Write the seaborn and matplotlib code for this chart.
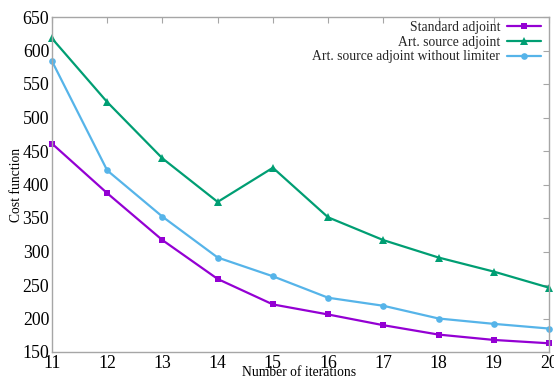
import matplotlib
matplotlib.use("Agg")
import matplotlib.pyplot as plt
import seaborn as sns
import pandas as pd

iterations = [11, 12, 13, 14, 15, 16, 17, 18, 19, 20]
standard_adjoint = [461, 387, 317, 259, 221, 206, 190, 176, 168, 163]
art_source_adjoint = [618, 523, 439, 374, 425, 351, 317, 291, 270, 246]
art_source_no_limiter = [584, 421, 352, 291, 263, 231, 219, 200, 192, 185]

series_names = ["Standard adjoint", "Art. source adjoint",
                "Art. source adjoint without limiter"]
series_values = [standard_adjoint, art_source_adjoint, art_source_no_limiter]
series_colors = ["#9400D3", "#009E73", "#56B4E9"]
series_markers = ["s", "^", "o"]
series_msizes = [4.6, 5.4, 4.8]

x_ticks = [11, 12, 13, 14, 15, 16, 17, 18, 19, 20]
y_ticks = [150, 200, 250, 300, 350, 400, 450, 500, 550, 600, 650]

sns.set_theme(style="white")
plt.rcParams["font.family"] = ["Liberation Serif", "DejaVu Serif"]

fig = plt.figure(figsize=(5.54, 3.82), dpi=100)
ax = fig.add_axes([52 / 554, 1 - 352 / 382, 497 / 554, 335 / 382])

for name, vals, col, mk, ms in zip(series_names, series_values, series_colors,
                                   series_markers, series_msizes):
    df = pd.DataFrame({"iter": iterations, "cost": vals})
    sns.lineplot(data=df, x="iter", y="cost", ax=ax, color=col, marker=mk,
                 markersize=ms, markeredgewidth=0, linewidth=1.6, label=name,
                 clip_on=False)

ax.set_xlim(11, 20)
ax.set_ylim(150, 650)
ax.set_xticks(x_ticks)
ax.set_yticks(y_ticks)
ax.set_xticklabels([str(t) for t in x_ticks])
ax.set_yticklabels([str(t) for t in y_ticks])

spine_color = "#a6a6a6"
for s in ax.spines.values():
    s.set_color(spine_color)
    s.set_linewidth(1.0)
ax.tick_params(direction="in", length=4, width=0.8, color=spine_color,
               top=True, right=True, labelsize=12.8, labelcolor="black", pad=2)

ax.set_xlabel("Number of iterations", fontsize=9.8, color="black")
ax.set_ylabel("Cost function", fontsize=9.8, color="black")
ax.xaxis.set_label_coords(0.497, -0.042)
ax.yaxis.set_label_coords(-0.058, 0.50)

leg = ax.legend(loc="upper right", bbox_to_anchor=(0.984, 0.988), frameon=False,
                markerfirst=False, fontsize=9.8, borderpad=0, borderaxespad=0,
                handlelength=2.5, handletextpad=0.5, labelspacing=0.12)

fig.savefig("out.png", dpi=100)
